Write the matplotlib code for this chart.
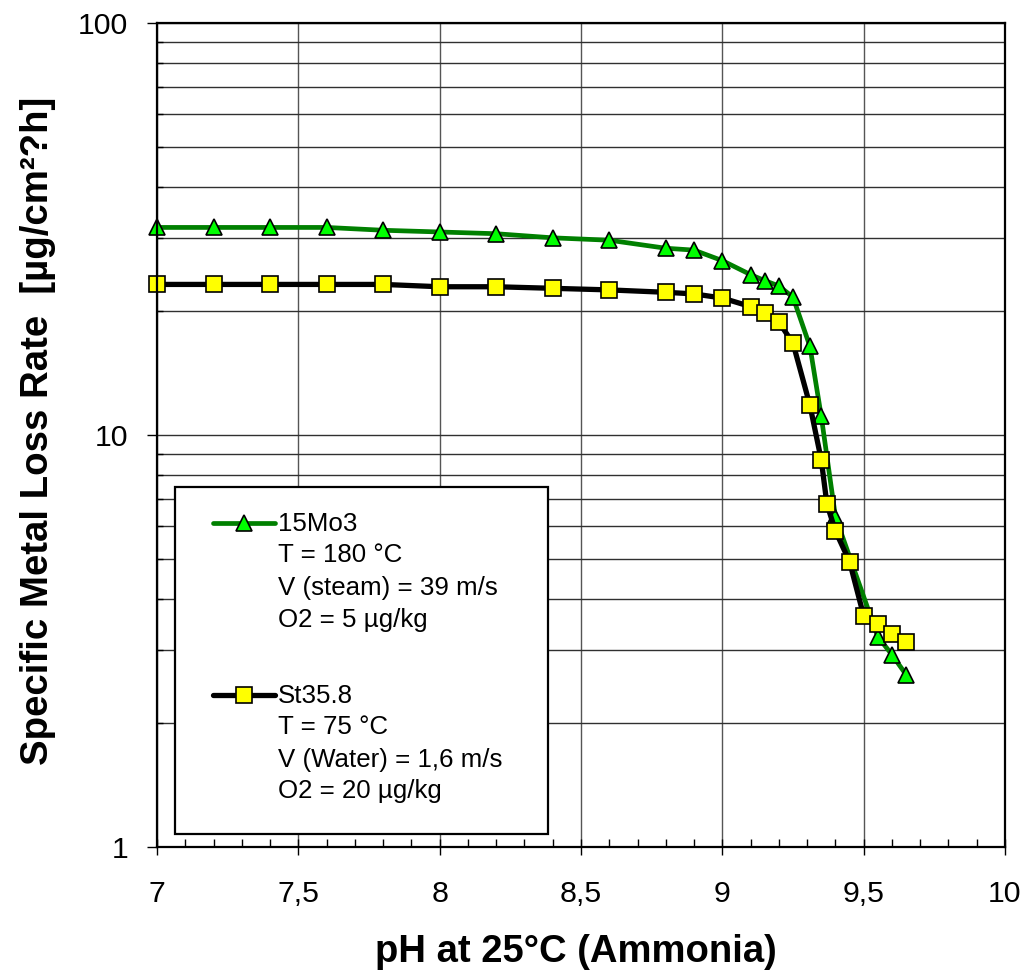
import matplotlib
matplotlib.use("Agg")
import matplotlib.pyplot as plt
from matplotlib.ticker import FixedLocator, LogLocator, NullFormatter, FixedFormatter
from matplotlib.patches import Rectangle
from matplotlib.lines import Line2D
from matplotlib import font_manager

# ---------------- data ----------------
ph_15mo3 = [7.0, 7.2, 7.4, 7.6, 7.8, 8.0, 8.2, 8.4, 8.6, 8.8, 8.9, 9.0, 9.1, 9.15,
            9.2, 9.25, 9.31, 9.35, 9.40, 9.55, 9.60, 9.65]
rate_15mo3 = [31.9, 31.9, 31.9, 31.9, 31.4, 31.1, 30.8, 30.1, 29.7, 28.4, 28.1, 26.5,
              24.5, 23.7, 23.0, 21.6, 16.4, 11.1, 6.34, 3.24, 2.93, 2.62]

ph_st358 = [7.0, 7.2, 7.4, 7.6, 7.8, 8.0, 8.2, 8.4, 8.6, 8.8, 8.9, 9.0, 9.1, 9.15,
            9.2, 9.25, 9.31, 9.35, 9.37, 9.40, 9.45, 9.50, 9.55, 9.60, 9.65]
rate_st358 = [23.2, 23.2, 23.2, 23.2, 23.2, 22.9, 22.9, 22.7, 22.5, 22.2, 22.0, 21.5,
              20.5, 19.8, 18.8, 16.7, 11.8, 8.7, 6.8, 5.85, 4.93, 3.64, 3.48, 3.29, 3.14]

x_ticks = [7.0, 7.5, 8.0, 8.5, 9.0, 9.5, 10.0]
x_tick_labels = ["7", "7,5", "8", "8,5", "9", "9,5", "10"]
y_ticks = [1, 10, 100]
y_tick_labels = ["1", "10", "100"]

legend_15mo3 = ["15Mo3", "T = 180 °C", "V (steam) = 39 m/s", "O2 = 5 µg/kg"]
legend_st358 = ["St35.8", "T = 75 °C", "V (Water) = 1,6 m/s", "O2 = 20 µg/kg"]

x_label = "pH at 25°C (Ammonia)"
y_label = "Specific Metal Loss Rate  [µg/cm²?h]"

# ---------------- style ----------------
W, H = 1028, 980
FONT = ["Liberation Sans", "DejaVu Sans"]
names = {f.name for f in font_manager.fontManager.ttflist}
NARROW = ["Liberation Sans Narrow", "Liberation Sans", "DejaVu Sans"] if "Liberation Sans Narrow" in names else FONT
plt.rcParams["font.family"] = FONT

fig = plt.figure(figsize=(W / 100, H / 100), dpi=100)
L, R, T, B = 157, 1005, 23, 847
ax = fig.add_axes([L / W, 1 - B / H, (R - L) / W, (B - T) / H])

def fx(px):
    return px / W

def fy(py):
    return 1 - py / H

ax.set_xlim(7, 10)
ax.set_yscale("log")
ax.set_ylim(1, 100)

# grid
ax.xaxis.set_major_locator(FixedLocator(x_ticks))
ax.xaxis.set_major_formatter(FixedFormatter(x_tick_labels))
ax.xaxis.set_minor_locator(FixedLocator([7 + 0.1 * i for i in range(31)]))
ax.yaxis.set_major_locator(FixedLocator(y_ticks))
ax.yaxis.set_major_formatter(FixedFormatter(y_tick_labels))
ax.yaxis.set_minor_locator(LogLocator(base=10, subs=range(2, 10)))
ax.yaxis.set_minor_formatter(NullFormatter())

ax.grid(True, which="major", axis="x", color="#555555", lw=1.0)
ax.grid(True, which="both", axis="y", color="#303030", lw=1.0)
ax.set_axisbelow(True)

for s in ax.spines.values():
    s.set_color("black")
    s.set_linewidth(1.6)
    s.set_zorder(5)

ax.tick_params(axis="x", which="major", direction="inout", length=12, width=1,
               labelsize=21.8, pad=18, colors="black")
ax.tick_params(axis="x", which="minor", direction="in", length=5.5, width=1)
ax.tick_params(axis="y", which="major", direction="out", length=7.2, width=1,
               labelsize=21.8, pad=13.5)
ax.tick_params(axis="y", which="minor", direction="in", length=4, width=1)

# data
ax.plot(ph_15mo3, rate_15mo3, color="#008000", lw=3.4, marker="^", ms=12,
        mfc="#00ff00", mec="black", mew=1.2, zorder=3, clip_on=False)
ax.plot(ph_st358, rate_st358, color="black", lw=3.8, marker="s", ms=11.5,
        mfc="#ffff00", mec="black", mew=1.2, zorder=4, clip_on=False)

# legend box (drawn manually)
box = Rectangle((fx(175), fy(834)), fx(548) - fx(175), fy(487) - fy(834),
                transform=fig.transFigure, facecolor="white", edgecolor="black",
                lw=1.6, zorder=10)
fig.patches.append(box)

fig.add_artist(Line2D([fx(213), fx(275)], [fy(523), fy(523)], color="#008000", lw=3.4,
                      solid_capstyle="round", zorder=11))
fig.add_artist(Line2D([fx(244)], [fy(523)], marker="^", ms=12, mfc="#00ff00",
                      mec="black", mew=1.2, zorder=12, lw=0))
fig.add_artist(Line2D([fx(213), fx(275)], [fy(695), fy(695)], color="black", lw=3.8,
                      solid_capstyle="round", zorder=11))
fig.add_artist(Line2D([fx(244)], [fy(695)], marker="s", ms=11.5, mfc="#ffff00",
                      mec="black", mew=1.2, zorder=12, lw=0))

base1 = [531, 562, 595, 627]
base2 = [703, 734, 767, 798]
for txt, yb in zip(legend_15mo3, base1):
    fig.text(fx(278), fy(yb), txt, fontsize=18.6, va="baseline", ha="left", zorder=12)
for txt, yb in zip(legend_st358, base2):
    fig.text(fx(278), fy(yb), txt, fontsize=18.6, va="baseline", ha="left", zorder=12)

# axis labels
fig.text(fx(576), fy(962), x_label, fontsize=27.5, fontweight="bold", ha="center",
         va="baseline")
fig.text(fx(38), fy(431), y_label, fontsize=27.6, fontweight="bold", ha="center",
         va="center", rotation=90, family=NARROW)

fig.savefig("out.png", dpi=100)
